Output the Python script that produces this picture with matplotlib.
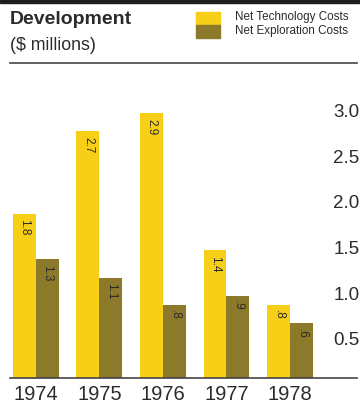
import matplotlib.pyplot as plt
from matplotlib.patches import Rectangle

years = ['1974', '1975', '1976', '1977', '1978']
technology = [1.8, 2.7, 2.9, 1.4, 0.8]
exploration = [1.3, 1.1, 0.8, 0.9, 0.6]
tech_labels = ['1.8', '2.7', '2.9', '1.4', '.8']
expl_labels = ['1.3', '1.1', '.8', '.9', '.6']
y_ticks = [0.5, 1.0, 1.5, 2.0, 2.5, 3.0]

yellow = '#f6cf16'
olive = '#8c792a'
ink = '#2b2b2b'

plt.rcParams['font.family'] = ['Liberation Sans', 'DejaVu Sans']

W, H = 360, 405
fig = plt.figure(figsize=(3.6, 4.05), dpi=100)

# dark band at the very top
fig.patches.append(Rectangle((0, 1 - 3 / H), 1, 3 / H, transform=fig.transFigure,
                             color='#1e1e1e', zorder=0))

# header
fig.text(10 / W, 1 - 20 / H, 'Development', fontsize=14, fontweight='bold',
         color=ink, va='center')
fig.text(10 / W, 1 - 46 / H, '($ millions)', fontsize=12.8, color=ink, va='center')

fig.patches.append(Rectangle((196 / W, 1 - 25 / H), 24 / W, 13 / H,
                             transform=fig.transFigure, color=yellow))
fig.patches.append(Rectangle((196 / W, 1 - 38 / H), 24 / W, 13 / H,
                             transform=fig.transFigure, color=olive))
fig.text(235 / W, 1 - 17 / H, 'Net Technology Costs', fontsize=8.4, color=ink, va='center')
fig.text(235 / W, 1 - 31 / H, 'Net Exploration Costs', fontsize=8.4, color=ink, va='center')

fig.add_artist(plt.Line2D([10 / W, 357 / W], [1 - 63 / H, 1 - 63 / H],
                          color='#444444', linewidth=1.2))

# chart area
left, right, bottom, top = 10, 357, 378, 70
ax = fig.add_axes([left / W, 1 - bottom / H, (right - left) / W, (bottom - top) / H])

x = list(range(len(years)))
w = 0.362
ax.bar([i - w / 2 for i in x], technology, width=w, color=yellow)
ax.bar([i + w / 2 for i in x], exploration, width=w, color=olive)

for i in x:
    ax.text(i - w / 2, technology[i] - 0.06, tech_labels[i], rotation=-90,
            ha='center', va='top', fontsize=8.5, color=ink)
    ax.text(i + w / 2, exploration[i] - 0.06, expl_labels[i], rotation=-90,
            ha='center', va='top', fontsize=8.5, color=ink)

ax.set_xlim(-0.409, 5.055)
ax.set_ylim(0, (bottom - top) / 91.3)
ax.set_xticks(x)
ax.set_xticklabels(years, fontsize=14.5, color=ink)
ax.set_yticks(y_ticks)
ax.set_yticklabels([f'{v:.1f}' for v in y_ticks], fontsize=13.5, color=ink, va='top')
ax.tick_params(axis='x', length=0, pad=5)
ax.tick_params(axis='y', left=False, labelleft=False, right=False, labelright=True,
               length=0, pad=-17)

for side in ['top', 'left', 'right']:
    ax.spines[side].set_visible(False)
ax.spines['bottom'].set_color('#444444')
ax.spines['bottom'].set_linewidth(1.2)

fig.savefig('out.png', dpi=100)
